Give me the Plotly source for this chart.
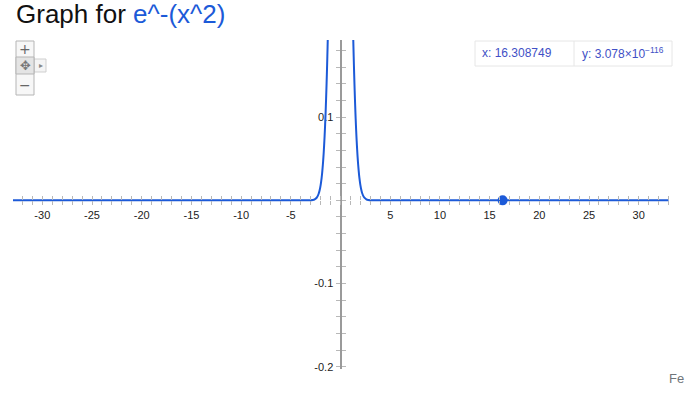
import plotly.graph_objects as go

# ---------------- data ----------------
curve_x = [-33, -3.0, -2.8, -2.6, -2.4, -2.3, -2.2, -2.1, -2.0, -1.9, -1.85, -1.8, -1.75,
           -1.7, -1.65, -1.6, -1.55, -1.5, -1.45, -1.4, -1.35, -1.3, -1.25, -1.2, -1.0, 0.0,
           1.0, 1.2, 1.25, 1.3, 1.35, 1.4, 1.45, 1.5, 1.55, 1.6, 1.65, 1.7, 1.75, 1.8, 1.85,
           1.9, 2.0, 2.1, 2.2, 2.3, 2.4, 2.6, 2.8, 3.0, 33]
curve_y = [0.0, 0.00012, 0.00039, 0.00116, 0.00315, 0.00504, 0.00791, 0.01216, 0.0183,
           0.0271, 0.0326, 0.0392, 0.0468, 0.0556, 0.0657, 0.0773, 0.0905, 0.1054, 0.1221,
           0.1409, 0.1616, 0.1845, 0.2096, 0.2369, 0.3679, 1.0,
           0.3679, 0.2369, 0.2096, 0.1845, 0.1616, 0.1409, 0.1221, 0.1054, 0.0905, 0.0773,
           0.0657, 0.0556, 0.0468, 0.0392, 0.0326, 0.0271, 0.0183, 0.01216, 0.00791,
           0.00504, 0.00315, 0.00116, 0.00039, 0.00012, 0.0]
point_x = [16.308749]
point_y = [3.078e-116]

x_tickvals = [-30, -25, -20, -15, -10, -5, 5, 10, 15, 20, 25, 30]
x_ticktext = ["-30", "-25", "-20", "-15", "-10", "-5", "5", "10", "15", "20", "25", "30"]
y_tickvals = [-0.2, -0.1, 0.1]
y_ticktext = ["-0.2", "-0.1", "0.1"]

title_plain = "Graph for "
title_expr = "e^-(x^2)"
info_x = "x: 16.308749"
info_y = "y: 3.078×10<sup>−116</sup>"
footer_text = "Fe"

# ---------------- layout geometry ----------------
W, H = 685, 410
ML, MR, MT, MB = 13, 12, 40, 41
PW, PH = W - ML - MR, H - MT - MB
XR = [-32.95, 33.45]
YR = [-0.2026, 0.1926]

def px(xp):
    return (xp - ML) / PW

def py(yp):
    return (H - MB - yp) / PH

x_axis_pos = (0 - YR[0]) / (YR[1] - YR[0])
y_axis_pos = (0 - XR[0]) / (XR[1] - XR[0])

BLUE = "#1c5ad8"
TICKC = "#b8b8b8"

fig = go.Figure()
fig.add_trace(go.Scatter(x=curve_x, y=curve_y, mode="lines",
                         line=dict(color=BLUE, width=2, shape="spline", smoothing=0.6),
                         hoverinfo="skip", showlegend=False))
# overlay subplot carrying the inner half of the crossing ticks (and the marked point)
fig.add_trace(go.Scatter(x=point_x, y=point_y, mode="markers", xaxis="x2", yaxis="y2",
                         marker=dict(color=BLUE, size=10),
                         hoverinfo="skip", showlegend=False))

common_font = dict(family="Liberation Sans, Arial, sans-serif", size=11, color="#222")

fig.update_layout(
    width=W, height=H,
    margin=dict(l=ML, r=MR, t=MT, b=MB),
    paper_bgcolor="white", plot_bgcolor="white",
    showlegend=False,
    xaxis=dict(range=XR, anchor="free", position=x_axis_pos, showline=False,
               showgrid=False, zeroline=False, ticks="outside", ticklen=4,
               tickcolor=TICKC, tickwidth=1,
               tickvals=x_tickvals, ticktext=x_ticktext, tickfont=common_font,
               minor=dict(dtick=1, tick0=0, ticks="outside", ticklen=4,
                          tickcolor=TICKC, showgrid=False),
               fixedrange=True),
    yaxis=dict(range=YR, anchor="free", position=y_axis_pos, showline=True,
               linecolor="#9a9a9a", linewidth=2, layer="below traces",
               showgrid=False, zeroline=False, ticks="outside", ticklen=4,
               tickcolor=TICKC, tickwidth=1,
               tickvals=y_tickvals, ticktext=y_ticktext, tickfont=common_font,
               minor=dict(dtick=0.02, tick0=0, ticks="outside", ticklen=4,
                          tickcolor=TICKC, showgrid=False),
               fixedrange=True),
    xaxis2=dict(range=XR, overlaying="x", anchor="free", position=x_axis_pos,
                showline=False, showgrid=False, zeroline=False, ticks="inside",
                ticklen=4, tickcolor=TICKC, tickvals=x_tickvals, showticklabels=False,
                minor=dict(dtick=1, tick0=0, ticks="inside", ticklen=4,
                           tickcolor=TICKC, showgrid=False),
                fixedrange=True),
    yaxis2=dict(range=YR, overlaying="y", anchor="free", position=y_axis_pos,
                showline=False, showgrid=False, zeroline=False, ticks="inside",
                ticklen=4, tickcolor=TICKC, tickvals=y_tickvals, showticklabels=False,
                minor=dict(dtick=0.02, tick0=0, ticks="inside", ticklen=4,
                           tickcolor=TICKC, showgrid=False),
                fixedrange=True),
)

shapes = []
annotations = []

# title
annotations.append(dict(
    xref="paper", yref="paper", x=px(14), y=py(14), xanchor="left", yanchor="middle",
    showarrow=False,
    text=f"<span style='color:#111'>{title_plain}</span><span style='color:{BLUE}'>{title_expr}</span>",
    font=dict(family="Liberation Sans, Arial, sans-serif", size=26, color="#111")))

# info box
shapes.append(dict(type="rect", xref="paper", yref="paper",
                   x0=px(475), x1=px(672), y0=py(66), y1=py(41),
                   line=dict(color="#e6e6e6", width=1), fillcolor="white", layer="above"))
shapes.append(dict(type="line", xref="paper", yref="paper",
                   x0=px(574), x1=px(574), y0=py(66), y1=py(41),
                   line=dict(color="#e6e6e6", width=1), layer="above"))
info_font = dict(family="Liberation Sans, Arial, sans-serif", size=12, color="#4150c6")
annotations.append(dict(xref="paper", yref="paper", x=px(480), y=py(53),
                        xanchor="left", yanchor="middle", showarrow=False,
                        text=info_x, font=info_font))
annotations.append(dict(xref="paper", yref="paper", x=px(580), y=py(53),
                        xanchor="left", yanchor="middle", showarrow=False,
                        text=info_y, font=info_font))

# zoom / pan control
shapes.append(dict(type="rect", xref="paper", yref="paper",
                   x0=px(34), x1=px(46), y0=py(72), y1=py(59),
                   line=dict(color="#cfcfcf", width=1), fillcolor="#f4f4f4", layer="above"))
shapes.append(dict(type="rect", xref="paper", yref="paper",
                   x0=px(16), x1=px(34), y0=py(95), y1=py(41),
                   line=dict(color="#b5b5b5", width=1), fillcolor="#f7f7f7", layer="above"))
shapes.append(dict(type="rect", xref="paper", yref="paper",
                   x0=px(16), x1=px(34), y0=py(74), y1=py(57),
                   line=dict(color="#b5b5b5", width=1), fillcolor="#e4e4e4", layer="above"))
ctrl_font = dict(family="DejaVu Sans, sans-serif", size=14, color="#666")
annotations.append(dict(xref="paper", yref="paper", x=px(25), y=py(49), showarrow=False,
                        text="+", font=ctrl_font, xanchor="center", yanchor="middle"))
annotations.append(dict(xref="paper", yref="paper", x=px(25), y=py(85), showarrow=False,
                        text="−", font=ctrl_font, xanchor="center", yanchor="middle"))
annotations.append(dict(xref="paper", yref="paper", x=px(25), y=py(66), showarrow=False,
                        text="✥", font=dict(family="DejaVu Sans, sans-serif", size=13, color="#777"),
                        xanchor="center", yanchor="middle"))
annotations.append(dict(xref="paper", yref="paper", x=px(40.5), y=py(66), showarrow=False,
                        text="▸", font=dict(family="DejaVu Sans, sans-serif", size=8, color="#888"),
                        xanchor="center", yanchor="middle"))

# footer text (at the window edge)
annotations.append(dict(xref="paper", yref="paper", x=px(667), y=py(378), showarrow=False,
                        text=footer_text, xanchor="left", yanchor="middle",
                        font=dict(family="Liberation Sans, Arial, sans-serif", size=13,
                                  color="#70757a")))

fig.update_layout(shapes=shapes, annotations=annotations)

fig.write_html("out.html", config={"displayModeBar": False},
               post_script="document.body.style.margin='0';")
